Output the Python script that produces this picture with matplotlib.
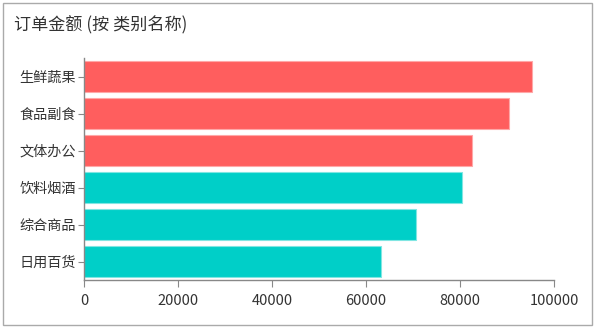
import matplotlib
matplotlib.use("Agg")
import matplotlib.pyplot as plt
from matplotlib.patches import Rectangle

plt.rcParams['font.family'] = ['Noto Sans CJK SC', 'DejaVu Sans']

categories = ["生鲜蔬果", "食品副食", "文体办公", "饮料烟酒", "综合商品", "日用百货"]
values = [95300, 90400, 82500, 80400, 70600, 63200]
groups = ["high", "high", "high", "low", "low", "low"]
group_colors = {"high": "#FF5E5E", "low": "#00CFC8"}
edge_colors = {"high": "#FFA8A8", "low": "#80E6E2"}
xticks = [0, 20000, 40000, 60000, 80000, 100000]

fig = plt.figure(figsize=(5.95, 3.27), dpi=100)
ax = fig.add_axes([84/595, 47/327, 470/595, 222/327])

ypos = list(range(len(categories)))[::-1]
ax.barh(ypos, values, height=0.84,
        color=[group_colors[g] for g in groups],
        edgecolor=[edge_colors[g] for g in groups], linewidth=0.8)

ax.set_ylim(-0.5, len(categories) - 0.5)
ax.set_xlim(0, 100000)
ax.set_yticks(ypos)
ax.set_yticklabels(categories, fontsize=10.2)
ax.set_xticks(xticks)
ax.set_xticklabels([str(v) for v in xticks], fontsize=10.5)

for s in ["top", "right"]:
    ax.spines[s].set_visible(False)
for s in ["left", "bottom"]:
    ax.spines[s].set_color("#888888")
    ax.spines[s].set_linewidth(1)
ax.tick_params(axis="both", colors="#888888", labelcolor="#333333")
ax.tick_params(axis="x", length=5, pad=5)
ax.tick_params(axis="y", length=4, pad=2)

fig.text(14/595, 1 - 25/327, "订单金额 (按 类别名称)", fontsize=12.3,
         color="#333333", va="center", ha="left")

fig.patches.append(Rectangle((3/595, 2/327), 589/595, 322/327, transform=fig.transFigure,
                             fill=False, edgecolor="#AAAAAA", linewidth=1))

fig.savefig("out.png", dpi=100)
